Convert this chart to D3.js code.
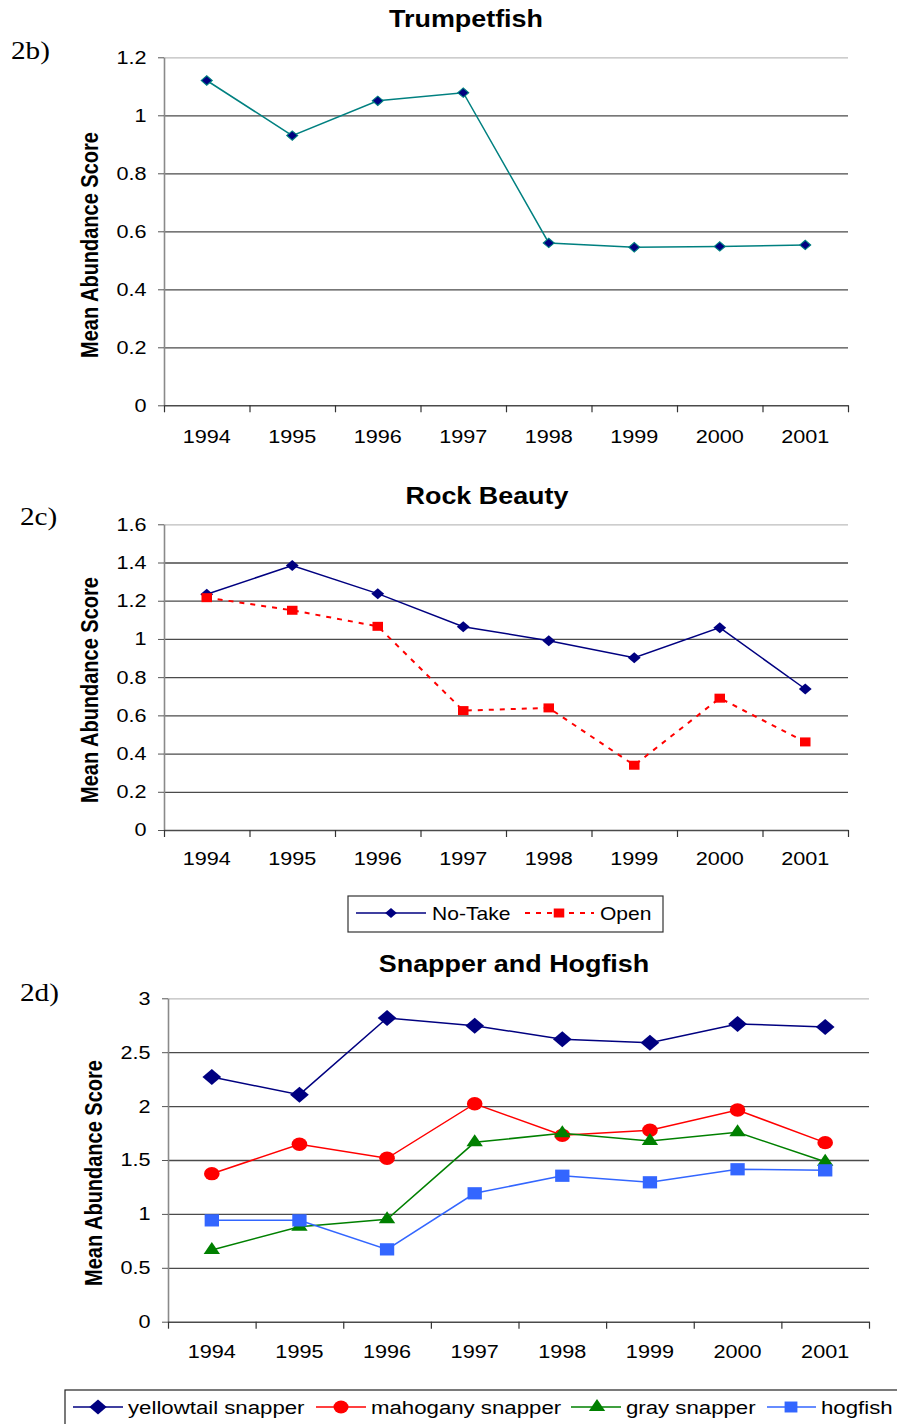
<!DOCTYPE html>
<html><head><meta charset="utf-8">
<script src="https://cdn.jsdelivr.net/npm/d3@7"></script>
<style>body{margin:0;background:#fff}</style>
</head><body>
<svg id="c" width="897" height="1424"></svg>
<script>
// ---------- data ----------
const years = ["1994","1995","1996","1997","1998","1999","2000","2001"];

const trumpetfish = [1.12, 0.93, 1.05, 1.078, 0.56, 0.545, 0.548, 0.553];

const rockNoTake = [1.234, 1.384, 1.237, 1.064, 0.991, 0.902, 1.059, 0.738];
const rockOpen   = [1.216, 1.150, 1.066, 0.625, 0.639, 0.339, 0.690, 0.461];

const yellowtail = [2.27, 2.106, 2.817, 2.746, 2.62, 2.588, 2.762, 2.734];
const mahogany   = [1.373, 1.646, 1.516, 2.022, 1.729, 1.776, 1.964, 1.661];
const graySnap   = [0.665, 0.881, 0.95, 1.664, 1.748, 1.676, 1.757, 1.484];
const hogfish    = [0.94, 0.94, 0.671, 1.191, 1.354, 1.293, 1.414, 1.404];

const ticksTrumpet = [0, 0.2, 0.4, 0.6, 0.8, 1, 1.2];
const ticksRock    = [0, 0.2, 0.4, 0.6, 0.8, 1, 1.2, 1.4, 1.6];
const ticksSnapper = [0, 0.5, 1, 1.5, 2, 2.5, 3];

const titles = ["Trumpetfish", "Rock Beauty", "Snapper and Hogfish"];
const tags = ["2b)", "2c)", "2d)"];
const yTitle = "Mean Abundance Score";
const legendRock = ["No-Take", "Open"];
const legendSnapper = ["yellowtail snapper", "mahogany snapper", "gray snapper", "hogfish"];

// ---------- drawing ----------
const SX = 1.17;
const FONT = "'Liberation Sans', Arial, sans-serif";
const SERIF = "'Liberation Serif', 'Times New Roman', serif";
const svg = d3.select("#c");

function stext(g, x, y, str, size, opts = {}) {
  return g.append("text")
    .attr("transform", `translate(${x},${y}) ${opts.rotate ? "rotate(-90) scale(1," + SX + ")" : "scale(" + SX + ",1)"}`)
    .attr("font-family", opts.family || FONT)
    .attr("font-size", size)
    .attr("font-weight", opts.weight || "normal")
    .attr("text-anchor", opts.anchor || "start")
    .attr("fill", "#000")
    .text(str);
}

const symbols = {
  diamond: d3.symbolSquare, square: d3.symbolSquare,
  circle: d3.symbolCircle, triangle: d3.symbolTriangle
};

function marker(g, type, cx, cy, size, fill, stroke) {
  g.append("path")
    .attr("d", d3.symbol(symbols[type], size)())
    .attr("transform", `translate(${cx},${cy}) scale(${SX},1)` + (type === "diamond" ? " rotate(45)" : ""))
    .attr("fill", fill)
    .attr("stroke", stroke || "none")
    .attr("stroke-width", stroke ? 1 : 0);
}

function drawChart(cfg) {
  const g = svg.append("g");
  const x = d3.scaleBand().domain(years).range([cfg.left, cfg.right]);
  const y = d3.scaleLinear().domain([0, cfg.yMax]).range([cfg.bottom, cfg.top]);

  // gridlines
  const grid = g.append("g").attr("transform", `translate(${cfg.left},0)`)
    .call(d3.axisRight(y).tickValues(cfg.yTicks.filter(v => v > 0))
      .tickSize(cfg.right - cfg.left).tickFormat(""));
  grid.select(".domain").remove();
  grid.selectAll(".tick line")
    .attr("stroke", d => d === cfg.yMax ? "#bdbdbd" : "#4a4a4a")
    .attr("stroke-width", 1.3);

  // y axis
  const ya = g.append("g").attr("transform", `translate(${cfg.left},0)`)
    .call(d3.axisLeft(y).tickValues(cfg.yTicks).tickSize(6).tickSizeOuter(0)
      .tickPadding(9).tickFormat(d => String(d)));
  ya.select(".domain").attr("stroke", "#8a8a8a").attr("stroke-width", 1.6);
  ya.selectAll(".tick line").attr("stroke", "#555");
  ya.selectAll(".tick text")
    .attr("font-family", FONT).attr("font-size", 18.5).attr("fill", "#000")
    .attr("transform", `scale(${SX},1)`);

  // x axis line and boundary ticks
  const edge = d3.scaleLinear().domain([0, years.length]).range([cfg.left, cfg.right]);
  const xa = g.append("g").attr("transform", `translate(0,${cfg.bottom})`)
    .call(d3.axisBottom(edge).tickValues(d3.range(years.length + 1))
      .tickSize(7).tickSizeOuter(0).tickFormat(""));
  xa.select(".domain").attr("stroke", "#4a4a4a").attr("stroke-width", 1.6);
  xa.selectAll(".tick line").attr("stroke", "#333").attr("stroke-width", 1.2);

  // x labels
  const xl = g.append("g").attr("transform", `translate(0,${cfg.bottom})`)
    .call(d3.axisBottom(x).tickSize(0).tickPadding(cfg.xPad));
  xl.select(".domain").remove();
  xl.selectAll(".tick text")
    .attr("font-family", FONT).attr("font-size", 18.5).attr("fill", "#000")
    .attr("transform", `scale(${SX},1)`);

  // series
  const cx = i => x(years[i]) + x.bandwidth() / 2;
  cfg.series.forEach(s => {
    const line = d3.line().x((d, i) => cx(i)).y(d => y(d));
    g.append("path").datum(s.values)
      .attr("d", line).attr("fill", "none")
      .attr("stroke", s.color).attr("stroke-width", s.width || 1.5)
      .attr("stroke-dasharray", s.dash || null);
    s.values.forEach((v, i) => marker(g, s.marker, cx(i), y(v), s.size, s.fill, s.stroke));
  });

  // texts
  stext(g, cfg.titleX, cfg.titleY, cfg.title, 23, { weight: "bold", anchor: "middle" });
  stext(g, cfg.tagX, cfg.tagY, cfg.tag, 25, { family: SERIF });
  stext(g, cfg.yLabX, cfg.yLabY, yTitle, 20, { weight: "bold", anchor: "middle", rotate: true });
}

drawChart({
  title: titles[0], tag: tags[0], left: 164, right: 848, top: 57.3, bottom: 405.3,
  yMax: 1.2, yTicks: ticksTrumpet, xPad: 25,
  titleX: 466, titleY: 27, tagX: 11, tagY: 59, yLabX: 98, yLabY: 245,
  series: [{ values: trumpetfish, color: "#008080", marker: "diamond", size: 44, fill: "#000080", stroke: "#008080" }]
});

drawChart({
  title: titles[1], tag: tags[1], left: 164, right: 848, top: 524.3, bottom: 830,
  yMax: 1.6, yTicks: ticksRock, xPad: 22,
  titleX: 487, titleY: 504, tagX: 20, tagY: 525, yLabX: 98, yLabY: 690,
  series: [
    { values: rockNoTake, color: "#000080", marker: "diamond", size: 60, fill: "#000080" },
    { values: rockOpen, color: "#ff0000", marker: "square", size: 81, fill: "#ff0000", dash: "5,6", width: 2 }
  ]
});

drawChart({
  title: titles[2], tag: tags[2], left: 168, right: 869, top: 998.3, bottom: 1321.7,
  yMax: 3, yTicks: ticksSnapper, xPad: 23,
  titleX: 514, titleY: 972, tagX: 20, tagY: 1001, yLabX: 102, yLabY: 1173,
  series: [
    { values: yellowtail, color: "#000080", marker: "diamond", size: 128, fill: "#000080" },
    { values: mahogany, color: "#ff0000", marker: "circle", size: 140, fill: "#ff0000" },
    { values: graySnap, color: "#008000", marker: "triangle", size: 85, fill: "#008000" },
    { values: hogfish, color: "#3366ff", marker: "square", size: 150, fill: "#3366ff" }
  ]
});

// ---------- legends ----------
const lg2 = svg.append("g");
lg2.append("rect").attr("x", 348).attr("y", 896).attr("width", 315).attr("height", 36)
  .attr("fill", "none").attr("stroke", "#333").attr("stroke-width", 1.2);
const rockItems = [
  { label: legendRock[0], color: "#000080", marker: "diamond", size: 50, x0: 356, x1: 426, mx: 391, tx: 432 },
  { label: legendRock[1], color: "#ff0000", marker: "square", size: 81, x0: 525, x1: 594, mx: 559, tx: 600, dash: "5,6", width: 2 }
];
rockItems.forEach(it => {
  lg2.append("line").attr("x1", it.x0).attr("x2", it.x1).attr("y1", 913).attr("y2", 913)
    .attr("stroke", it.color).attr("stroke-width", it.width || 1.3).attr("stroke-dasharray", it.dash || null);
  marker(lg2, it.marker, it.mx, 913, it.size, it.color);
  stext(lg2, it.tx, 919.5, it.label, 18);
});

const lg3 = svg.append("g");
lg3.append("rect").attr("x", 65).attr("y", 1390).attr("width", 850).attr("height", 40)
  .attr("fill", "none").attr("stroke", "#222").attr("stroke-width", 1.2);
const snapItems = [
  { label: legendSnapper[0], color: "#000080", marker: "diamond", size: 110, x0: 73, x1: 123, mx: 98, tx: 128 },
  { label: legendSnapper[1], color: "#ff0000", marker: "circle", size: 130, x0: 316, x1: 366, mx: 341, tx: 371 },
  { label: legendSnapper[2], color: "#008000", marker: "triangle", size: 85, x0: 571, x1: 621, mx: 597, tx: 626 },
  { label: legendSnapper[3], color: "#3366ff", marker: "square", size: 120, x0: 767, x1: 816, mx: 791, tx: 821 }
];
snapItems.forEach(it => {
  lg3.append("line").attr("x1", it.x0).attr("x2", it.x1).attr("y1", 1407).attr("y2", 1407)
    .attr("stroke", it.color).attr("stroke-width", 1.3);
  marker(lg3, it.marker, it.mx, 1407, it.size, it.color);
  stext(lg3, it.tx, 1413.5, it.label, 19);
});
</script>
</body></html>
